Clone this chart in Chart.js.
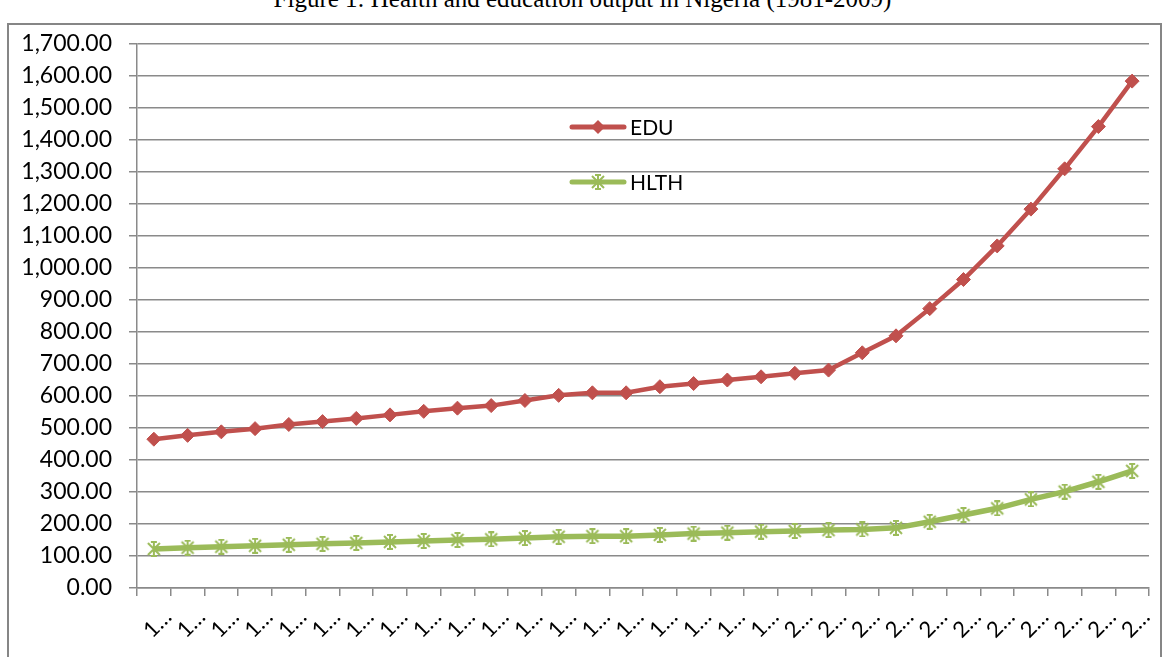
<!DOCTYPE html>
<html>
<head>
<meta charset="utf-8">
<script src="https://cdn.jsdelivr.net/npm/chart.js@4.4.0/dist/chart.umd.min.js"></script>
<style>
  body { margin: 0; background: #fff; width: 1165px; height: 657px; overflow: hidden; position: relative; }
  #title { position: absolute; left: 0; top: -14px; width: 1165px; text-align: center;
           font: 25px "Liberation Serif", "Times New Roman", serif; line-height: 25px; color: #000; }
  #frame { position: absolute; left: 7px; top: 23px; width: 1155px; height: 700px;
           border: 2px solid #868686; box-sizing: border-box; }
  #chart { position: absolute; left: 0; top: 0; }
</style>
</head>
<body>
<div id="title">Figure 1: Health and education output in Nigeria (1981-2009)</div>
<div id="frame"></div>
<canvas id="chart" width="1165" height="657"></canvas>
<script>
// years on the category axis (Excel cuts them to "1…" / "2…")
const years = [1981, 1982, 1983, 1984, 1985, 1986, 1987, 1988, 1989, 1990,
  1991, 1992, 1993, 1994, 1995, 1996, 1997, 1998, 1999, 2000,
  2001, 2002, 2003, 2004, 2005, 2006, 2007, 2008, 2009, 2010];

// education output
const edu = [465, 477, 488, 498, 511, 520, 530, 541, 552, 562,
  570, 586, 602, 610, 610, 629, 639, 650, 660, 671,
  681, 735, 788, 873, 964, 1069, 1184, 1310, 1442, 1584];

// health output
const hlth = [122, 126, 129, 132, 135, 138, 141, 144, 147, 150,
  152, 156, 160, 162, 162, 166, 170, 173, 176, 178,
  181, 183, 188, 207, 228, 249, 277, 301, 332, 366];

const seriesNames = ["EDU", "HLTH"];
const yMin = 0;
const yMax = 1700;
const yStep = 100;

const eduColor = "#C0504D";
const hlthColor = "#9BBB59";
const gridColor = "#8a8a8a";
const tickFont = { family: "Lato, 'Open Sans', sans-serif", size: 23 };

// excel style star marker
const starMarker = (color) => {
  const c = document.createElement("canvas");
  c.width = 16;
  c.height = 16;
  const g = c.getContext("2d");
  g.strokeStyle = color;
  g.lineWidth = 2;
  g.beginPath();
  g.moveTo(2, 2); g.lineTo(14, 14);
  g.moveTo(14, 2); g.lineTo(2, 14);
  g.moveTo(8, 0); g.lineTo(8, 16);
  g.moveTo(5, 1); g.lineTo(11, 1);
  g.moveTo(5, 15); g.lineTo(11, 15);
  g.stroke();
  return c;
};
const hlthStar = starMarker(hlthColor);

// legend drawn inside the plot, like the Excel one
const insideLegend = {
  id: "insideLegend",
  afterDraw(chart) {
    const ctx = chart.ctx;
    const rows = [
      { text: seriesNames[0], color: eduColor, y: 127, diamond: true },
      { text: seriesNames[1], color: hlthColor, y: 182, diamond: false },
    ];
    ctx.save();
    rows.forEach((r) => {
      ctx.strokeStyle = r.color;
      ctx.fillStyle = r.color;
      ctx.lineWidth = 5;
      ctx.lineCap = "round";
      ctx.beginPath();
      ctx.moveTo(572, r.y);
      ctx.lineTo(624, r.y);
      ctx.stroke();
      if (r.diamond) {
        ctx.beginPath();
        ctx.moveTo(598, r.y - 7);
        ctx.lineTo(605, r.y);
        ctx.lineTo(598, r.y + 7);
        ctx.lineTo(591, r.y);
        ctx.closePath();
        ctx.fill();
      } else {
        ctx.drawImage(hlthStar, 590, r.y - 8);
      }
      ctx.fillStyle = "#000";
      ctx.font = "21px Lato, 'Open Sans', sans-serif";
      ctx.textBaseline = "middle";
      ctx.textAlign = "left";
      ctx.fillText(r.text, 630, r.y + 1);
    });
    ctx.restore();
  },
};

const ctx = document.getElementById("chart").getContext("2d");

new Chart(ctx, {
  type: "line",
  data: {
    labels: years,
    datasets: [
      {
        label: seriesNames[0],
        data: edu,
        borderColor: eduColor,
        backgroundColor: eduColor,
        borderWidth: 4.5,
        pointStyle: "rectRot",
        pointRadius: 7,
        pointBorderWidth: 1,
        tension: 0,
      },
      {
        label: seriesNames[1],
        data: hlth,
        borderColor: hlthColor,
        backgroundColor: hlthColor,
        borderWidth: 5.5,
        pointStyle: hlthStar,
        pointRadius: 8,
        tension: 0,
      },
    ],
  },
  options: {
    responsive: false,
    animation: false,
    layout: { padding: { top: 44, right: 16, left: 0, bottom: 0 } },
    plugins: {
      legend: { display: false },
      tooltip: { enabled: false },
    },
    scales: {
      x: {
        offset: true,
        grid: {
          offset: true,
          drawOnChartArea: false,
          drawTicks: true,
          tickLength: 8,
          color: gridColor,
          lineWidth: 1.5,
        },
        border: { color: gridColor, width: 1.5 },
        ticks: {
          autoSkip: false,
          minRotation: 45,
          maxRotation: 45,
          padding: 8,
          labelOffset: 14,
          color: "#000",
          font: { family: tickFont.family, size: 22 },
          callback: (v, i) => String(years[i]).charAt(0) + "\u2026",
        },
        afterFit: (scale) => { scale.height = 69; },
      },
      y: {
        min: yMin,
        max: yMax,
        grid: { color: gridColor, lineWidth: 1.5, tickLength: 8 },
        border: { color: gridColor, width: 1.5 },
        ticks: {
          stepSize: yStep,
          padding: 17,
          color: "#000",
          font: tickFont,
          callback: (v) => v.toLocaleString("en-US", { minimumFractionDigits: 2, maximumFractionDigits: 2 }),
        },
        afterFit: (scale) => { scale.width = 137; },
      },
    },
  },
  plugins: [insideLegend],
});
</script>
</body>
</html>
